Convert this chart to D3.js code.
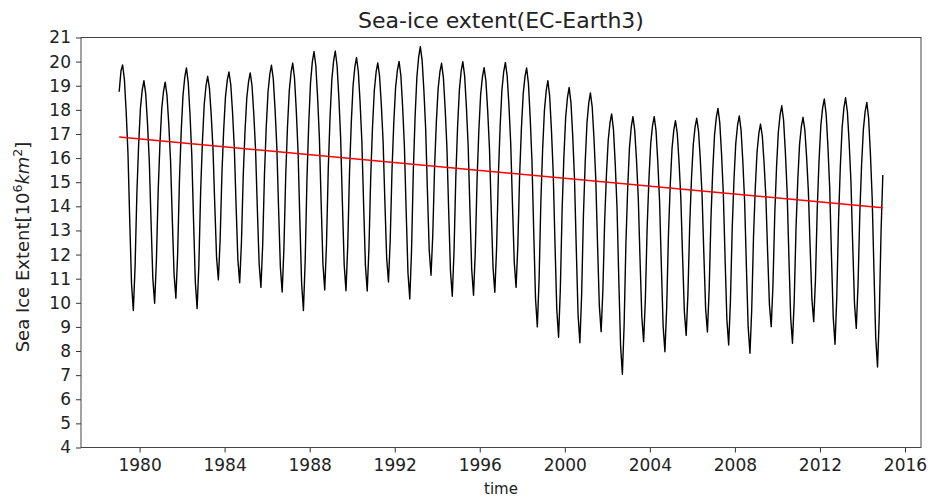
<!DOCTYPE html>
<html>
<head>
<meta charset="utf-8">
<script src="https://cdn.jsdelivr.net/npm/d3@7"></script>
<style>
  html, body { margin: 0; padding: 0; background: #fff; }
  svg { display: block; font-family: "DejaVu Sans", sans-serif; }
</style>
</head>
<body>
<svg id="chart" width="940" height="501"></svg>
<script>
// Monthly sea-ice extent (10^6 km^2), EC-Earth3, Jan 1979 - Dec 2014, one row per year
const firstYear = 1979;
const extent = [
  18.75, 19.62, 19.86, 19.25, 17.93, 16.20, 13.45, 10.80,  9.68, 11.49, 14.54, 16.54, // 1979
  18.07, 18.83, 19.21, 18.66, 17.46, 15.89, 13.40, 11.00,  9.98, 11.72, 14.66, 16.58, // 1980
  18.05, 18.78, 19.15, 18.61, 17.45, 15.92, 13.51, 11.18, 10.19, 12.00, 15.06, 17.07, // 1981
  18.59, 19.36, 19.74, 19.14, 17.84, 16.15, 13.45, 10.86,  9.76, 11.59, 14.67, 16.69, // 1982
  18.23, 19.00, 19.39, 18.88, 17.79, 16.35, 14.07, 11.88, 10.95, 12.59, 15.35, 17.16, // 1983
  18.54, 19.23, 19.57, 19.05, 17.91, 16.42, 14.06, 11.79, 10.83, 12.48, 15.27, 17.09, // 1984
  18.49, 19.18, 19.53, 19.00, 17.84, 16.33, 13.93, 11.62, 10.64, 12.39, 15.34, 17.27, // 1985
  18.74, 19.48, 19.85, 19.29, 18.06, 16.47, 13.93, 11.48, 10.45, 12.25, 15.29, 17.28, // 1986
  18.80, 19.56, 19.94, 19.32, 17.99, 16.25, 13.48, 10.81,  9.68, 11.72, 15.16, 17.41, // 1987
  19.13, 19.99, 20.42, 19.83, 18.54, 16.86, 14.19, 11.62, 10.53, 12.41, 15.58, 17.67, // 1988
  19.25, 20.04, 20.44, 19.84, 18.55, 16.86, 14.18, 11.59, 10.50, 12.34, 15.43, 17.46, // 1989
  19.01, 19.78, 20.17, 19.59, 18.33, 16.69, 14.07, 11.55, 10.49, 12.29, 15.31, 17.30, // 1990
  18.81, 19.57, 19.95, 19.40, 18.22, 16.68, 14.22, 11.86, 10.86, 12.60, 15.53, 17.45, // 1991
  18.91, 19.64, 20.01, 19.42, 18.14, 16.46, 13.80, 11.24, 10.16, 12.15, 15.49, 17.69, // 1992
  19.36, 20.20, 20.62, 20.05, 18.82, 17.21, 14.65, 12.18, 11.14, 12.81, 15.62, 17.47, // 1993
  18.88, 19.58, 19.93, 19.35, 18.09, 16.45, 13.84, 11.33, 10.27, 12.12, 15.23, 17.28, // 1994
  18.83, 19.61, 20.00, 19.42, 18.16, 16.51, 13.90, 11.38, 10.31, 12.10, 15.12, 17.11, // 1995
  18.62, 19.37, 19.75, 19.19, 17.98, 16.40, 13.88, 11.46, 10.44, 12.25, 15.30, 17.30, // 1996
  18.83, 19.59, 19.97, 19.41, 18.20, 16.61, 14.09, 11.67, 10.64, 12.37, 15.28, 17.19, // 1997
  18.65, 19.38, 19.74, 19.10, 17.70, 15.87, 12.97, 10.18,  9.00, 10.94, 14.21, 16.35, // 1998
  17.98, 18.80, 19.21, 18.57, 17.19, 15.38, 12.51,  9.74,  8.57, 10.54, 13.85, 16.03, // 1999
  17.69, 18.52, 18.93, 18.29, 16.92, 15.12, 12.26,  9.50,  8.34, 10.31, 13.62, 15.80, // 2000
  17.46, 18.29, 18.70, 18.11, 16.82, 15.14, 12.46,  9.89,  8.80, 10.52, 13.41, 15.30, // 2001
  16.75, 17.47, 17.83, 17.18, 15.78, 13.95, 11.03,  8.23,  7.04,  9.07, 12.49, 14.73, // 2002
  16.44, 17.29, 17.72, 17.16, 15.95, 14.36, 11.84,  9.42,  8.39, 10.16, 13.15, 15.11, // 2003
  16.60, 17.35, 17.72, 17.14, 15.87, 14.21, 11.58,  9.04,  7.97,  9.79, 12.86, 14.87, // 2004
  16.40, 17.17, 17.55, 17.02, 15.86, 14.35, 11.94,  9.63,  8.65, 10.36, 13.24, 15.13, // 2005
  16.57, 17.29, 17.65, 17.12, 15.97, 14.46, 12.07,  9.76,  8.79, 10.55, 13.52, 15.46, // 2006
  16.95, 17.69, 18.06, 17.47, 16.20, 14.53, 11.88,  9.33,  8.25, 10.06, 13.10, 15.09, // 2007
  16.61, 17.37, 17.75, 17.16, 15.88, 14.21, 11.55,  8.99,  7.91,  9.72, 12.76, 14.75, // 2008
  16.27, 17.03, 17.41, 16.91, 15.81, 14.39, 12.12,  9.93,  9.01, 10.75, 13.68, 15.61, // 2009
  17.07, 17.80, 18.17, 17.58, 16.30, 14.62, 11.96,  9.40,  8.32, 10.10, 13.10, 15.07, // 2010
  16.57, 17.32, 17.69, 17.18, 16.08, 14.64, 12.35, 10.15,  9.22, 10.97, 13.93, 15.87, // 2011
  17.34, 18.08, 18.45, 17.84, 16.52, 14.79, 12.04,  9.40,  8.28, 10.22, 13.49, 15.64, // 2012
  17.27, 18.09, 18.50, 17.93, 16.68, 15.06, 12.48,  9.99,  8.94, 10.72, 13.72, 15.69, // 2013
  17.19, 17.94, 18.31, 17.65, 16.23, 14.36, 11.40,  8.55,  7.34,  9.44, 12.98, 15.30  // 2014
];

// Linear trend of the series, value at the first and at the last month
const trendEnds = [16.87, 13.94];

// Axis ticks
const yTicks = [4, 5, 6, 7, 8, 9, 10, 11, 12, 13, 14, 15, 16, 17, 18, 19, 20, 21];
const xTickYears = [1980, 1984, 1988, 1992, 1996, 2000, 2004, 2008, 2012, 2016];

const titleText = "Sea-ice extent(EC-Earth3)";
const xLabelText = "time";

// Plot box
const plot = { left: 81, right: 921, top: 37.5, bottom: 447.5 };

const series = extent.map((v, i) => ({
  date: new Date(firstYear, i, 16),
  value: v
}));

const svg = d3.select("#chart");

// x: time axis with 5% margin on both sides of the data
const t0 = series[0].date.getTime();
const t1 = series[series.length - 1].date.getTime();
const pad = (t1 - t0) * 0.05;
const x = d3.scaleTime()
  .domain([new Date(t0 - pad), new Date(t1 + pad)])
  .range([plot.left, plot.right]);

const y = d3.scaleLinear()
  .domain([4, 21])
  .range([plot.bottom, plot.top]);

// Clip data to the plot area
svg.append("defs").append("clipPath").attr("id", "clip")
  .append("rect")
  .attr("x", plot.left).attr("y", plot.top)
  .attr("width", plot.right - plot.left)
  .attr("height", plot.bottom - plot.top);

const lineGen = d3.line()
  .x(d => x(d.date))
  .y(d => y(d.value));

svg.append("path")
  .datum(series)
  .attr("clip-path", "url(#clip)")
  .attr("fill", "none")
  .attr("stroke", "#000")
  .attr("stroke-width", 1.4)
  .attr("stroke-linejoin", "round")
  .attr("d", lineGen);

// Trend line
const trend = [
  { date: series[0].date, value: trendEnds[0] },
  { date: series[series.length - 1].date, value: trendEnds[1] }
];
svg.append("path")
  .datum(trend)
  .attr("fill", "none")
  .attr("stroke", "#ff0000")
  .attr("stroke-width", 1.5)
  .attr("d", lineGen);

// Axes
const tickColor = "#333";
const labelColor = "#222";

const xAxis = d3.axisBottom(x)
  .tickValues(xTickYears.map(yr => new Date(yr, 0, 1)))
  .tickFormat(d3.timeFormat("%Y"))
  .tickSize(5)
  .tickPadding(6);

const gx = svg.append("g")
  .attr("transform", `translate(0,${plot.bottom})`)
  .call(xAxis);

const yAxis = d3.axisLeft(y)
  .tickValues(yTicks)
  .tickFormat(d3.format("d"))
  .tickSize(5)
  .tickPadding(5);

const gy = svg.append("g")
  .attr("transform", `translate(${plot.left},0)`)
  .call(yAxis);

[gx, gy].forEach(g => {
  g.select(".domain").remove();
  g.selectAll(".tick line").attr("stroke", tickColor).attr("stroke-width", 1);
  g.selectAll(".tick text")
    .attr("fill", labelColor)
    .style("font-family", "'DejaVu Sans', sans-serif")
    .style("font-size", "17px");
});

// Frame around the plot area
svg.append("rect")
  .attr("x", plot.left).attr("y", plot.top)
  .attr("width", plot.right - plot.left)
  .attr("height", plot.bottom - plot.top)
  .attr("fill", "none")
  .attr("stroke", "#444")
  .attr("stroke-width", 1);

// Title
svg.append("text")
  .attr("x", (plot.left + plot.right) / 2)
  .attr("y", 28)
  .attr("text-anchor", "middle")
  .attr("fill", labelColor)
  .style("font-size", "22px")
  .text(titleText);

// x label
svg.append("text")
  .attr("x", (plot.left + plot.right) / 2)
  .attr("y", 494)
  .attr("text-anchor", "middle")
  .attr("fill", labelColor)
  .style("font-size", "15px")
  .text(xLabelText);

// y label: Sea Ice Extent[10^6 km^2]
const yl = svg.append("text")
  .attr("transform", "translate(29,247) rotate(-90)")
  .attr("text-anchor", "middle")
  .attr("fill", labelColor)
  .style("font-size", "18px");
yl.append("tspan").text("Sea Ice Extent[10");
yl.append("tspan").attr("dy", -7).style("font-size", "12.5px").text("6");
yl.append("tspan").attr("dy", 7).style("font-style", "italic").text("km");
yl.append("tspan").attr("dy", -7).style("font-size", "12.5px").text("2");
yl.append("tspan").attr("dy", 7).text("]");
</script>
</body>
</html>
